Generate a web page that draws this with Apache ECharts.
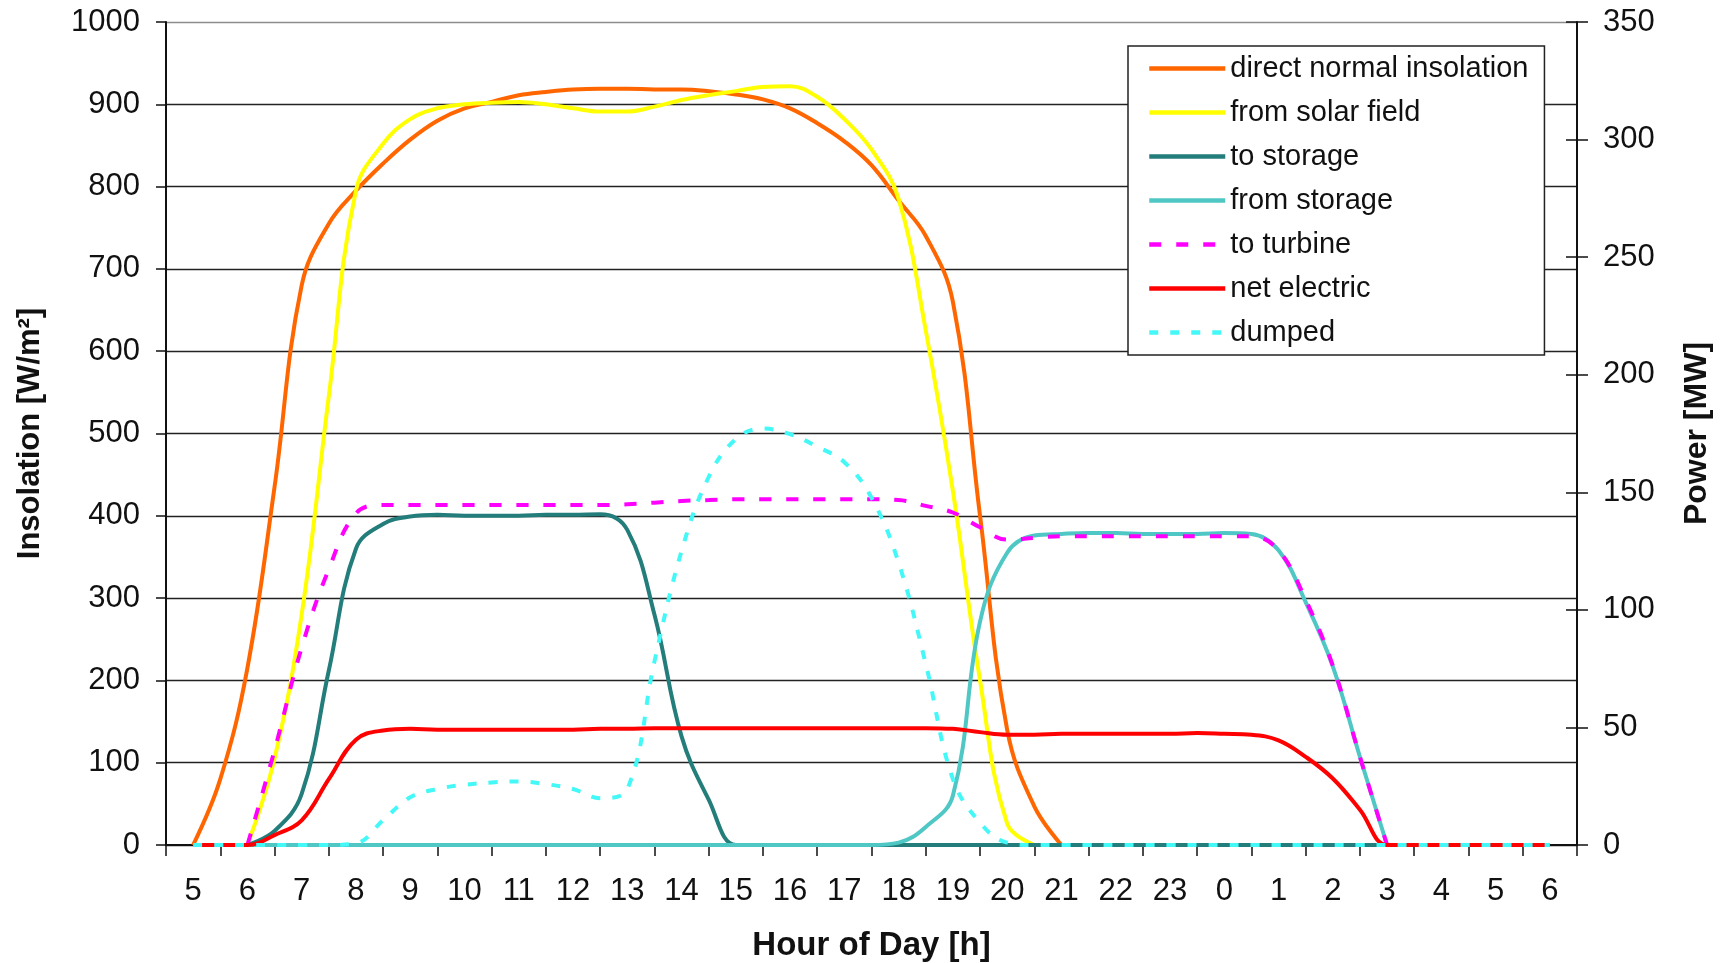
<!DOCTYPE html>
<html>
<head>
<meta charset="utf-8">
<title>Insolation and power over the day</title>
<script src="https://cdn.jsdelivr.net/npm/echarts@6/dist/echarts.min.js"></script>
<style>
  html, body { margin: 0; padding: 0; background: #fff; }
  #chart { width: 1725px; height: 963px; }
</style>
</head>
<body>
<div id="chart"></div>
<script>
// axis labels (hour of day, running past midnight)
const hourLabels = ['5', '6', '7', '8', '9', '10', '11', '12', '13', '14', '15', '16', '17',
  '18', '19', '20', '21', '22', '23', '0', '1', '2', '3', '4', '5', '6']

// sample positions in hours since midnight of the first day (24+ = next day)
const hours = [5, 5.5, 6, 6.5, 7, 7.5, 8, 8.5, 9, 9.5, 10, 10.5, 11, 11.5, 12, 12.5, 13, 13.5,
  14, 14.5, 15, 15.5, 16, 16.5, 17, 17.5, 18, 18.5, 19, 19.5, 20, 20.5, 21, 21.5, 22, 22.5,
  23, 23.5, 24, 24.5, 25, 25.5, 26, 26.5, 27, 27.5, 28, 28.5, 29, 29.5, 30]

// W/m2 (left axis)
const directNormal = [0, 80, 215, 435, 680, 755, 795, 828, 857, 880, 895, 903, 911, 915, 918, 919,
  919, 918, 918, 916, 912, 906, 895, 877, 855, 826, 783, 740, 660, 400, 140, 47, 0]

// MW (right axis)
const fromSolarField = [null, null, 0, 36.8, 98, 190.8, 278.3, 298.2, 308.7, 313.3, 315, 315.7,
  316, 315, 313.3, 311.9, 311.9, 314, 316.8, 318.9, 320.6, 322.4, 322.7, 318.2, 308.7, 295.8,
  274.8, 218.8, 150.5, 70, 9.1, 0]
const toStorage = [null, null, 0, 6, 21.7, 74.2, 126, 136.5, 139.7, 140.4, 140, 140, 140, 140.4,
  140.4, 140.7, 134, 98, 46.2, 19.3, 0, 0, 0, 0, 0, 0, 0, 0, 0, 0, 0, 0, 0, 0, 0, 0, 0, 0, 0,
  0, 0, 0, 0, 0, 0, 0, 0]
const fromStorage = [null, null, 0, 0, 0, 0, 0, 0, 0, 0, 0, 0, 0, 0, 0, 0, 0, 0, 0, 0, 0, 0, 0,
  0, 0, 0, 1, 7.7, 21, 95, 124.3, 131.6, 132.3, 132.7, 132.7, 132.3, 132.3, 132.3, 132.7,
  132.3, 125.3, 103.3, 76, 37.5, 0]
const toTurbine = [null, null, 0, 40.3, 84, 117.3, 141, 144.6, 144.6, 144.6, 144.6, 144.6, 144.6,
  144.6, 144.6, 144.6, 144.9, 145.6, 146.3, 146.7, 147, 147, 147, 147, 147, 147, 146.7, 144.2,
  141.4, 135.1, 129.9, 130.6, 131.3, 131.3, 131.3, 131.3, 131.3, 131.3, 131.3, 131.3, 125.3,
  104.3, 76.3, 37.5, 0]
const netElectric = [0, 0, 0, 4.2, 10.5, 28, 44.8, 48.7, 49.4, 49, 49, 49, 49, 49, 49, 49.4, 49.4,
  49.7, 49.7, 49.7, 49.7, 49.7, 49.7, 49.7, 49.7, 49.7, 49.7, 49.7, 49.4, 48, 46.9, 46.9, 47.3,
  47.3, 47.3, 47.3, 47.3, 47.6, 47.3, 46.9, 44.5, 37.5, 28.3, 15, 0, 0, 0, 0, 0, 0, 0]
const dumped = [0, 0, 0, 0, 0, 0, 0.7, 10.5, 20.3, 23.8, 25.6, 26.6, 27, 25.9, 23.8, 19.9, 23.8,
  78, 125, 156.5, 172.6, 177.1, 174.7, 169.4, 162.8, 147.7, 120, 77, 28, 9.5, 1, 0, 0, 0, 0, 0,
  0, 0, 0, 0, 0, 0, 0, 0, 0, 0, 0, 0, 0, 0, 0]

const font = "'Liberation Sans', Arial, sans-serif"
const ink = '#111'

function pairs(values) {
  const out = []
  values.forEach((v, i) => {
    if (v !== null && v !== undefined) out.push([hours[i], v])
  })
  return out
}

function lineSeries(name, values, color, yAxisIndex, dash) {
  return {
    name,
    type: 'line',
    xAxisIndex: 1,
    yAxisIndex,
    data: pairs(values),
    smooth: 0.4,
    symbol: 'none',
    lineStyle: { color, width: 4, type: dash || 'solid', cap: 'butt' },
    itemStyle: { color }
  }
}

// top gridline is the plot border, drawn grey
const gridColors = ['#222', '#222', '#222', '#222', '#222', '#222', '#222', '#222', '#222', '#222', '#8c8c8c']

const chart = echarts.init(document.getElementById('chart'), null, { renderer: 'canvas' })

chart.setOption({
  animation: false,
  backgroundColor: '#fff',
  textStyle: { fontFamily: font, color: ink },
  grid: { left: 166, right: 148, top: 22, bottom: 118, containLabel: false, outerBoundsMode: 'none' },
  legend: {
    orient: 'vertical',
    left: 1128,
    top: 46,
    padding: [8, 16, 8, 19],
    backgroundColor: '#fff',
    borderColor: '#222',
    borderWidth: 1.5,
    itemWidth: 76,
    itemHeight: 30,
    itemGap: 15,
    itemStyle: { opacity: 0 },
    lineStyle: { width: 4.5 },
    textStyle: { fontFamily: font, fontSize: 29, color: ink },
    data: ['direct normal insolation', 'from solar field', 'to storage', 'from storage',
      'to turbine', 'net electric', 'dumped']
  },
  xAxis: [
    {
      type: 'category',
      data: hourLabels,
      boundaryGap: true,
      position: 'bottom',
      name: 'Hour of Day [h]',
      nameLocation: 'middle',
      nameGap: 84,
      nameTextStyle: { fontFamily: font, fontSize: 33, fontWeight: 'bold', color: ink },
      axisLine: { lineStyle: { color: ink, width: 2 } },
      axisTick: { show: true, interval: 0, length: 11, lineStyle: { color: ink, width: 1.5 } },
      axisLabel: { interval: 0, fontFamily: font, fontSize: 31, color: ink, margin: 31 },
      splitLine: { show: false }
    },
    { type: 'value', min: 4.5, max: 30.5, show: false }
  ],
  yAxis: [
    {
      type: 'value',
      position: 'left',
      min: 0,
      max: 1000,
      interval: 100,
      name: 'Insolation [W/m²]',
      nameLocation: 'middle',
      nameRotate: 90,
      nameGap: 120,
      nameTextStyle: { fontFamily: font, fontSize: 31, fontWeight: 'bold', color: ink },
      axisLine: { show: true, lineStyle: { color: ink, width: 2 } },
      axisTick: { show: true, length: 10, lineStyle: { color: ink, width: 1.5 } },
      axisLabel: { fontFamily: font, fontSize: 31, color: ink, margin: 26, formatter: v => String(v) },
      splitLine: { show: true, lineStyle: { color: gridColors, width: 1.3 } }
    },
    {
      type: 'value',
      position: 'right',
      min: 0,
      max: 350,
      interval: 50,
      name: 'Power [MW]',
      nameLocation: 'middle',
      nameRotate: 90,
      nameGap: 104,
      nameTextStyle: { fontFamily: font, fontSize: 32, fontWeight: 'bold', color: ink },
      axisLine: { show: true, lineStyle: { color: ink, width: 2 } },
      axisTick: { show: true, length: 11, lineStyle: { color: ink, width: 1.5 } },
      axisLabel: { fontFamily: font, fontSize: 31, color: ink, margin: 26 },
      splitLine: { show: false }
    },
    {
      // inner half of the crossing ticks on the right axis
      type: 'value',
      position: 'right',
      min: 0,
      max: 350,
      interval: 50,
      axisLine: { show: false },
      axisTick: { show: true, inside: true, length: 11, lineStyle: { color: ink, width: 1.5 } },
      axisLabel: { show: false },
      splitLine: { show: false }
    }
  ],
  series: [
    lineSeries('direct normal insolation', directNormal, '#ff6600', 0),
    lineSeries('from solar field', fromSolarField, '#ffff00', 1),
    lineSeries('to storage', toStorage, '#237d7b', 1),
    lineSeries('from storage', fromStorage, '#4fc7c5', 1),
    lineSeries('to turbine', toTurbine, '#ff00ff', 1, [12, 15]),
    lineSeries('net electric', netElectric, '#ff0000', 1),
    lineSeries('dumped', dumped, '#44f8f8', 1, [9, 12])
  ]
})
</script>
</body>
</html>
